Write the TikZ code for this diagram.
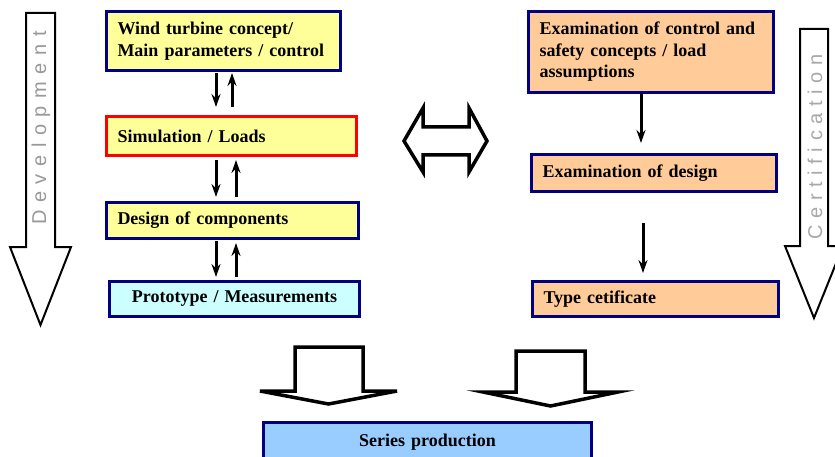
\documentclass[tikz,border=0pt]{standalone}
\usepackage{fontspec}
\setmainfont{Liberation Serif}
\setsansfont{Liberation Sans}
\usetikzlibrary{arrows.meta}
\definecolor{navy}{HTML}{000080}
\definecolor{ylw}{HTML}{FFFF99}
\definecolor{org}{HTML}{FFCC99}
\definecolor{cyn}{HTML}{CCFFFF}
\definecolor{blu}{HTML}{99CCFF}
\definecolor{txtgray}{HTML}{999999}
\definecolor{txtgray2}{HTML}{A8A8A8}
\newcommand\gp{\kern7.6pt}
\newcommand\gq{\kern6.6pt}
\begin{document}
\begin{tikzpicture}[x=1pt,y=-1pt,
  box/.style={draw=navy, line width=3pt, anchor=north west, inner xsep=11pt, inner ysep=0pt,
    align=left, font=\bfseries\fontsize{18}{21.5}\selectfont},
  arr/.style={line width=3pt, -{Stealth[length=13pt,width=9pt]}},
  bigarrow/.style={draw=black, line width=2pt, fill=white, line join=miter},
  fatarrow/.style={draw=black, line width=3.5pt, fill=white, line join=miter},
  sidetxt/.style={font=\sffamily\fontsize{20}{20}\selectfont, rotate=90}]
\useasboundingbox (0,0) rectangle (835,457);
\clip (0,0) rectangle (835,457);

% side arrows
\draw[bigarrow] (26,13) -- (55,13) -- (55,247) -- (71,247) -- (40.5,325) -- (10,247) -- (26,247) -- cycle;
\node[sidetxt, text=txtgray] (dev) at (41,128) {D\gp e\gp v\gp e\gp l\gp o\gp p\gp m\gp e\gp n\gp t};
\draw[bigarrow] (800,29) -- (828,29) -- (828,246) -- (843,246) -- (814,318) -- (785,246) -- (800,246) -- cycle;
\node[sidetxt, text=txtgray2] (cert) at (815,147) {C\gq e\gq r\gq t\gq i\gq f\gq i\gq c\gq a\gq t\gq i\gq o\gq n};

% left column
\node[box, fill=ylw, minimum width=234pt, minimum height=59pt, text width=212pt] (wind) at (105,10)
  {Wind turbine concept/\\Main parameters / control};
\node[box, fill=ylw, draw=red, minimum width=250pt, minimum height=39pt, text width=228pt] (sim) at (105,115)
  {Simulation / Loads};
\node[box, fill=ylw, minimum width=252pt, minimum height=36pt, text width=230pt] (des) at (105,201)
  {Design of components};
\node[box, fill=cyn, minimum width=250pt, minimum height=35pt, text width=228pt, align=center] (proto) at (108,280)
  {Prototype / Measurements};

% right column
\node[box, fill=org, minimum width=245pt, minimum height=81pt, text width=223pt] (exc) at (527,10)
  {Examination of control and\\safety concepts / load\\assumptions};
\node[box, fill=org, minimum width=245pt, minimum height=37pt, text width=223pt] (exd) at (530,153)
  {Examination of design};
\node[box, fill=org, minimum width=246pt, minimum height=35pt, text width=224pt] (type) at (531,280)
  {Type cetificate};

% bottom
\node[box, fill=blu, minimum width=328pt, minimum height=40pt, text width=306pt, align=center] (series) at (262,421)
  {Series production};

% small arrows left
\draw[arr] ([xshift=111pt,yshift=-1pt]wind.south west) -- ([xshift=111pt,yshift=8pt]sim.north west);
\draw[arr] ([xshift=127pt,yshift=8pt]sim.north west) -- ([xshift=127pt,yshift=-1pt]wind.south west);
\draw[arr] ([xshift=111pt,yshift=-3pt]sim.south west) -- ([xshift=111pt,yshift=4pt]des.north west);
\draw[arr] ([xshift=131pt,yshift=4pt]des.north west) -- ([xshift=131pt,yshift=-3pt]sim.south west);
\draw[arr] ([xshift=111pt,yshift=-1pt]des.south west) -- ([xshift=108pt,yshift=3pt]proto.north west);
\draw[arr] ([xshift=128pt,yshift=3pt]proto.north west) -- ([xshift=131pt,yshift=-3pt]des.south west);

% small arrows right
\draw[arr] ([xshift=114pt]exc.south west) -- ([xshift=111pt,yshift=10pt]exd.north west);
\draw[arr] ([xshift=113pt,yshift=-30pt]exd.south west) -- ([xshift=112pt,yshift=7pt]type.north west);

% double arrow
\draw[fatarrow] (404,141) -- (423,108) -- (423,127) -- (469,127) -- (469,108) -- (487,141)
  -- (469,172) -- (469,155) -- (423,155) -- (423,172) -- cycle;

% bottom fat arrows
\draw[fatarrow] (295,347) -- (363,347) -- (363,391) -- (397,391) -- (328.5,404) -- (260,391) -- (295,391) -- cycle;
\draw[fatarrow] (516,351) -- (585,351) -- (585,392) -- (618,392) -- (550.5,406) -- (483,392) -- (516,392) -- cycle;
\end{tikzpicture}
\end{document}
